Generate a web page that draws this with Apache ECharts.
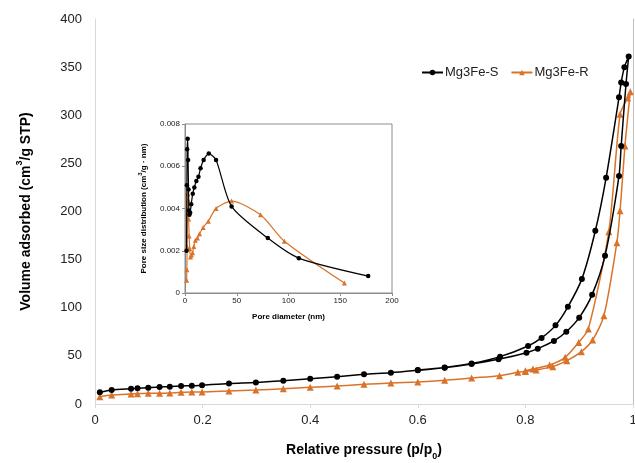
<!DOCTYPE html>
<html>
<head>
<meta charset="utf-8">
<script src="https://cdn.jsdelivr.net/npm/echarts@6/dist/echarts.min.js"></script>
<style>html,body{margin:0;padding:0;background:#fff}#c{width:635px;height:463px}</style>
</head>
<body>
<div id="c"></div>
<script>
// Main isotherm data
var xTicks = [0, 0.2, 0.4, 0.6, 0.8, 1];
var sAdsP = [0.009,0.031,0.067,0.079,0.099,0.12,0.139,0.16,0.18,0.199,0.249,0.299,0.35,0.4,0.45,0.5,0.55,0.6,0.65,0.7,0.75,0.802,0.823,0.853,0.876,0.90,0.924,0.948,0.974,0.978,0.987,0.992];
var sAdsV = [12.1,14.5,15.9,16.3,17,17.7,18,18.7,19,19.6,21.4,22.4,24.2,26.3,28.4,30.8,32.5,35,37.7,41.5,46.4,53.3,57.5,65.5,75,89.7,113.6,154,237,268,332.5,361];
var sDesP = [0.984,0.978,0.974,0.95,0.93,0.905,0.879,0.856,0.83,0.805,0.753,0.70,0.65,0.6];
var sDesV = [350,334,318.6,235,180,130,101,81.7,68.6,60.3,49.2,42,38,35.2];
var rAdsP = [0.009,0.031,0.067,0.079,0.099,0.12,0.139,0.16,0.18,0.199,0.249,0.299,0.35,0.4,0.45,0.5,0.55,0.6,0.65,0.7,0.752,0.786,0.80,0.82,0.851,0.877,0.904,0.925,0.946,0.970,0.976,0.985,0.995];
var rAdsV = [7.6,9.3,10.4,10.7,11.1,11.1,11.4,12.1,12.5,12.5,13.5,14.5,15.9,17.3,18.7,20.4,21.8,22.9,24.6,27,29.4,32.9,33.7,35.3,38.8,45,54.4,66.5,91.8,167.6,200.8,268,324.5];
var rDesP = [0.99,0.976,0.955,0.917,0.899,0.874,0.845,0.814,0.80];
var rDesV = [318,301,179,78,64,48.5,40.5,36.4,34.5];
// Inset pore size distribution
var sPoreD = [1.5,1.8,2.1,2.6,3.0,3.4,3.8,4.3,5,6,7.5,9,11,13,15,18,23,30,45,80,110,177];
var sPoreV = [0.0020,0.0051,0.0068,0.0073,0.0063,0.0049,0.0039,0.0037,0.0038,0.0042,0.0047,0.0050,0.0053,0.0055,0.0059,0.0063,0.0066,0.0063,0.0041,0.0026,0.00165,0.0008];
var rPoreD = [1.6,1.8,2.0,2.3,2.6,3.0,3.5,4.0,4.6,5.3,6.2,7.3,8.5,10,12,14,17.5,22.5,30,45,73,96,154];
var rPoreV = [0.0006,0.0011,0.0022,0.0038,0.0047,0.0044,0.0035,0.0027,0.0021,0.0017,0.0018,0.0019,0.0022,0.0025,0.0026,0.0028,0.0031,0.0034,0.0040,0.00435,0.0037,0.00245,0.00047];

function zip(a, b) { return a.map(function (v, i) { return [v, b[i]]; }); }
var BLACK = '#000000', ORANGE = '#D9732A';
var FONT = 'Liberation Sans, Arial, sans-serif';

var chart = echarts.init(document.getElementById('c'), null, {renderer: 'canvas'});
chart.setOption({
  animation: false,
  backgroundColor: '#fff',
  textStyle: {fontFamily: FONT},
  legend: {
    left: 416, top: 61, itemWidth: 21, itemHeight: 7, itemGap: 12,
    textStyle: {fontSize: 13, color: '#222', fontFamily: FONT, padding: [0, 0, 0, -3]},
    data: ['Mg3Fe-S', 'Mg3Fe-R']
  },
  grid: [
    {left: 95, right: 2, top: 19, bottom: 59, outerBoundsMode: 'none', containLabel: false},
    {left: 185, right: 243, top: 124, bottom: 170, outerBoundsMode: 'none', containLabel: false,
      show: true, borderColor: '#8c8c8c', borderWidth: 1, backgroundColor: '#fff'}
  ],
  xAxis: [
    {gridIndex: 0, type: 'value', min: 0, max: 1, interval: 0.2,
      axisLine: {show: true, lineStyle: {color: '#d9d9d9'}},
      axisTick: {show: true, length: 4, lineStyle: {color: '#d9d9d9'}},
      splitLine: {show: false},
      axisLabel: {fontSize: 13, color: '#222', margin: 10, fontFamily: FONT,
        formatter: function (v) { return String(Math.round(v * 10) / 10); }},
      name: '{m|Relative pressure (p/p}{sub|0}{m|)}', nameLocation: 'middle', nameGap: 39,
      nameTextStyle: {rich: {
        m: {fontSize: 14, fontWeight: 'bold', color: '#000', fontFamily: FONT, lineHeight: 18, verticalAlign: 'top'},
        sub: {fontSize: 9, fontWeight: 'bold', color: '#000', fontFamily: FONT, lineHeight: 9, verticalAlign: 'bottom'}
      }}
    },
    {gridIndex: 1, type: 'value', min: 0, max: 200, interval: 50,
      axisLine: {show: true, lineStyle: {color: '#8c8c8c'}},
      axisTick: {show: true, length: 3, inside: false, lineStyle: {color: '#8c8c8c'}},
      splitLine: {show: false},
      axisLabel: {fontSize: 8, color: '#222', margin: 4, fontFamily: FONT},
      name: 'Pore diameter (nm)', nameLocation: 'middle', nameGap: 20,
      nameTextStyle: {fontSize: 8, fontWeight: 'bold', color: '#000', fontFamily: FONT}
    }
  ],
  yAxis: [
    {gridIndex: 0, type: 'value', min: 0, max: 400, interval: 50,
      axisLine: {show: true, lineStyle: {color: '#d9d9d9'}},
      axisTick: {show: false},
      splitLine: {show: false},
      axisLabel: {fontSize: 13, color: '#222', margin: 13, fontFamily: FONT},
      name: '{m|Volume adsorbed (cm}{sup|3}{m|/g STP)}', nameLocation: 'middle', nameGap: 62,
      nameTextStyle: {rich: {
        m: {fontSize: 14, fontWeight: 'bold', color: '#000', fontFamily: FONT, lineHeight: 18, verticalAlign: 'bottom'},
        sup: {fontSize: 9, fontWeight: 'bold', color: '#000', fontFamily: FONT, lineHeight: 9, verticalAlign: 'top'}
      }}
    },
    {gridIndex: 0, type: 'value', position: 'right', min: 0, max: 400, interval: 50,
      axisLine: {show: true, lineStyle: {color: '#bfbfbf'}},
      axisTick: {show: false}, axisLabel: {show: false}, splitLine: {show: false}
    },
    {gridIndex: 1, type: 'value', min: 0, max: 0.008, interval: 0.002,
      axisLine: {show: true, lineStyle: {color: '#8c8c8c'}},
      axisTick: {show: true, length: 3, lineStyle: {color: '#8c8c8c'}},
      splitLine: {show: false},
      axisLabel: {fontSize: 8, color: '#222', margin: 5, fontFamily: FONT,
        formatter: function (v) { return v === 0 ? '0' : v.toFixed(3); }},
      name: '{m|Pore size distribution (cm}{sup|3}{m|/g · nm)}', nameLocation: 'middle', nameGap: 37,
      nameTextStyle: {rich: {
        m: {fontSize: 8, fontWeight: 'bold', color: '#000', fontFamily: FONT, lineHeight: 11, verticalAlign: 'bottom'},
        sup: {fontSize: 6, fontWeight: 'bold', color: '#000', fontFamily: FONT, lineHeight: 6, verticalAlign: 'top'}
      }}
    }
  ],
  series: [
    {name: 'Mg3Fe-S', type: 'line', xAxisIndex: 0, yAxisIndex: 0,
      data: zip(sAdsP, sAdsV).concat(zip(sDesP, sDesV)),
      smooth: 0.25, symbol: 'circle', symbolSize: 6,
      lineStyle: {color: BLACK, width: 1.5}, itemStyle: {color: BLACK}, z: 3},
    {name: 'Mg3Fe-R', type: 'line', xAxisIndex: 0, yAxisIndex: 0,
      data: zip(rAdsP, rAdsV).concat(zip(rDesP, rDesV)),
      smooth: 0.25, symbol: 'triangle', symbolSize: 7,
      lineStyle: {color: ORANGE, width: 1.5}, itemStyle: {color: ORANGE}, z: 2},
    {name: 'Mg3Fe-S', type: 'line', xAxisIndex: 1, yAxisIndex: 2,
      data: zip(sPoreD, sPoreV), smooth: 0.25, symbol: 'circle', symbolSize: 4.5,
      lineStyle: {color: BLACK, width: 1.2}, itemStyle: {color: BLACK}, z: 5},
    {name: 'Mg3Fe-R', type: 'line', xAxisIndex: 1, yAxisIndex: 2,
      data: zip(rPoreD, rPoreV), smooth: 0.25, symbol: 'triangle', symbolSize: 5,
      lineStyle: {color: ORANGE, width: 1.2}, itemStyle: {color: ORANGE}, z: 4}
  ]
});
</script>
</body>
</html>
